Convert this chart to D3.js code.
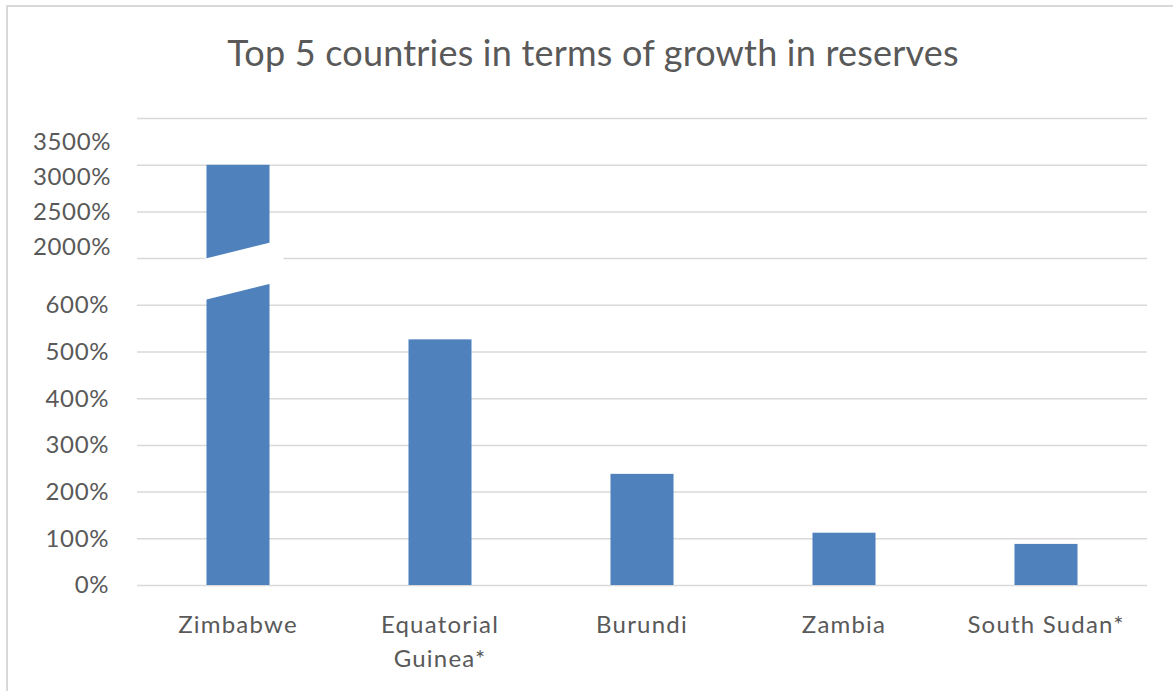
<!DOCTYPE html>
<html>
<head>
<meta charset="utf-8">
<script src="https://cdn.jsdelivr.net/npm/d3@7"></script>
<style>
    body { margin: 0; background: #fff; }
    svg { display: block; font-family: Lato, 'Open Sans', sans-serif; }
</style>
</head>
<body>
<div class="Canvas"></div>
<script>
// chart data
const countries = ['Zimbabwe', 'Equatorial Guinea*', 'Burundi', 'Zambia', 'South Sudan*'];
const growth = [3170, 526, 238, 112, 88]; // growth in reserves, %
const lowerTicks = [0, 100, 200, 300, 400, 500, 600];
const upperTicks = [2000, 2500, 3000, 3500];
const gridTicks = [0, 100, 200, 300, 400, 500, 600, 700, 800, 900, 1000];

const width = 1173;
const height = 691;
const plotLeft = 137;
const plotRight = 1147;
const plotBottom = 585;
const plotTop = 118;
const barColor = '#4f81bd';
const gridColor = '#d9d9d9';
const textColor = '#595959';

let svg = d3.select('.Canvas').append('svg').attr('width', width).attr('height', height);

// outer frame
svg.append('rect')
    .attr('x', 7).attr('y', 6)
    .attr('width', width + 20).attr('height', height + 20)
    .attr('fill', 'none')
    .attr('stroke', gridColor)
    .attr('stroke-width', 2);

svg.append('text')
    .attr('x', 593)
    .attr('y', 57)
    .attr('text-anchor', 'middle')
    .attr('dominant-baseline', 'middle')
    .attr('font-size', '36px')
    .attr('letter-spacing', '0.2px')
    .attr('fill', textColor)
    .text('Top 5 countries in terms of growth in reserves');

// x band scale
let x = d3.scaleBand().domain(countries).range([plotLeft, plotRight]).paddingInner(0.688).paddingOuter(0.344);

// the sheet's own axis runs 0..1000, gridlines every 100
let yGrid = d3.scaleLinear().domain([0, 1000]).range([plotBottom, plotTop]);
// lower part of broken axis
let yLow = d3.scaleLinear().domain([0, 600]).range([plotBottom, yGrid(600)]);
// upper part of broken axis
let yHigh = d3.scaleLinear().domain([2000, 3500]).range([246.7, 141.7]);
const yVal = (v) => (v <= 600 ? yLow(v) : yHigh(v));

// gridlines
let grid = svg.append('g')
    .attr('transform', `translate(${plotLeft},0)`)
    .call(d3.axisLeft(yGrid).tickValues(gridTicks).tickSize(-(plotRight - plotLeft)).tickFormat(''));
grid.select('.domain').remove();
grid.selectAll('.tick line').attr('stroke', gridColor).attr('stroke-width', 1.5);

// bars
svg.append('g')
    .selectAll('rect')
    .data(growth)
    .enter()
    .append('rect')
    .attr('x', (d, i) => x(countries[i]))
    .attr('y', (d) => yVal(d))
    .attr('width', x.bandwidth())
    .attr('height', (d) => plotBottom - yVal(d))
    .attr('fill', barColor);

// white slanted cut across the tall bar
let bx = x(countries[0]);
let bw = x.bandwidth();
const slope = -15.5 / 63;
const cutTop = (px) => 258.3 + slope * (px - bx);
const cutBot = (px) => 299.4 + slope * (px - bx);
let x0 = bx - 6;
let x1 = bx + bw + 14;
svg.append('polygon')
    .attr('points', [
        [x0, cutTop(x0)], [x1, cutTop(x1)], [x1, cutBot(x1)], [x0, cutBot(x0)]
    ].map((p) => p.join(',')).join(' '))
    .attr('fill', '#fff');

// y labels
let yLabels = svg.append('g')
    .attr('font-size', '24px')
    .attr('letter-spacing', '0.6px')
    .attr('fill', textColor)
    .attr('text-anchor', 'end');
yLabels.selectAll('text.low')
    .data(lowerTicks)
    .enter()
    .append('text')
    .attr('class', 'low')
    .attr('x', 109)
    .attr('y', (d) => yLow(d))
    .attr('dy', '0.35em')
    .text((d) => d + '%');
yLabels.selectAll('text.high')
    .data(upperTicks)
    .enter()
    .append('text')
    .attr('class', 'high')
    .attr('x', 111)
    .attr('y', (d) => yHigh(d))
    .attr('dy', '0.35em')
    .text((d) => d + '%');

// x labels, wrapped like the sheet
const lines = { 'Equatorial Guinea*': ['Equatorial', 'Guinea*'] };
let xLabels = svg.append('g')
    .attr('font-size', '24px')
    .attr('letter-spacing', '1.2px')
    .attr('fill', textColor)
    .attr('text-anchor', 'middle');
countries.forEach((c) => {
    let parts = lines[c] || [c];
    let t = xLabels.append('text')
        .attr('y', 625);
    parts.forEach((p, i) => {
        t.append('tspan')
            .attr('x', x(c) + x.bandwidth() / 2)
            .attr('dy', i == 0 ? '0.35em' : '34px')
            .text(p);
    });
});
</script>
</body>
</html>
